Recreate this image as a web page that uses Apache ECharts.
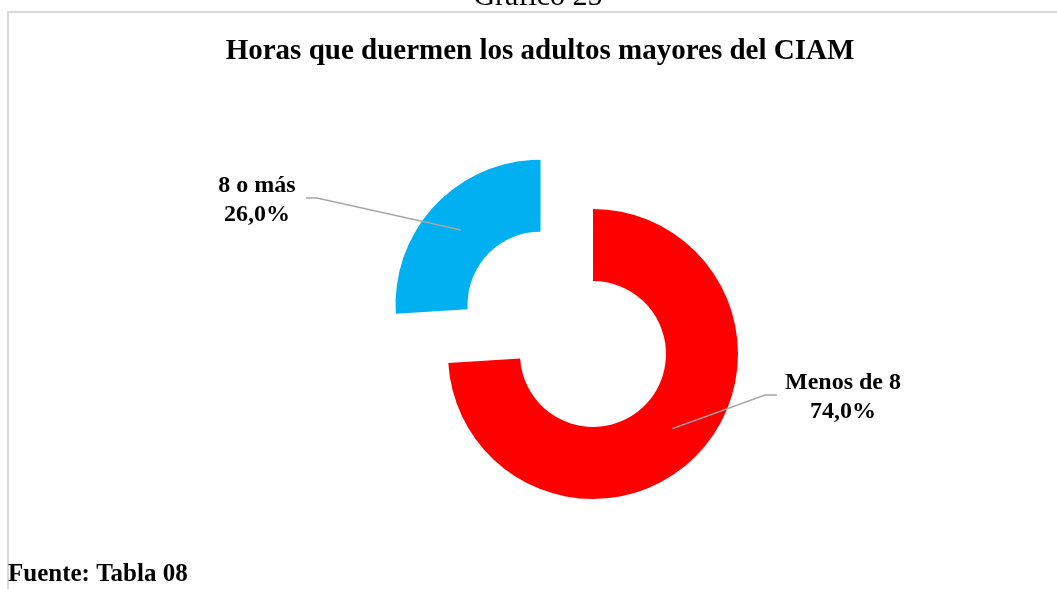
<!DOCTYPE html>
<html>
<head>
<meta charset="utf-8">
<script src="https://cdn.jsdelivr.net/npm/echarts@6/dist/echarts.min.js"></script>
<style>
  html, body { margin: 0; padding: 0; background: #ffffff; }
  #chart { width: 1057px; height: 589px; }
</style>
</head>
<body>
<div id="chart"></div>
<script>
// Sleep hours of older adults at the CIAM (percent of respondents)
const categories = ['Menos de 8', '8 o más'];
const percentages = [74.0, 26.0];
const sliceColors = ['#FF0000', '#00B0F0'];
const explodedSlice = [false, true];

const FONT = '"Liberation Serif", "Times New Roman", Times, serif';
const CENTER = [593, 354];
const RADII = [73, 145];
const EXPLODE = 72;

// where each label block sits, and the elbow/end of its leader line
const labelSpots = [
  { x: 843, y: 397, elbow: [765, 395], end: [777, 395] },
  { x: 257, y: 200, elbow: [317, 198], end: [306, 198] }
];

const total = percentages.reduce((a, b) => a + b, 0);

// mid angle of a slice, radians clockwise from 12 o'clock
function midAngle(i) {
  let before = 0;
  for (let k = 0; k < i; k++) before += percentages[k];
  return (before + percentages[i] / 2) / total * 2 * Math.PI;
}

// leader lines start in the middle of the ring (of the pulled-out slice when exploded)
function leaderStart(i) {
  const a = midAngle(i);
  const off = explodedSlice[i] ? EXPLODE : 0;
  const r = (RADII[0] + RADII[1]) / 2 + off;
  return [CENTER[0] + r * Math.sin(a), CENTER[1] - r * Math.cos(a)];
}

function labelText(i) {
  return categories[i] + '\n' + percentages[i].toFixed(1).replace('.', ',') + '%';
}

const graphics = [
  {
    type: 'rect', z: 0, silent: true,
    shape: { x: 8, y: 12, width: 1200, height: 800 },
    style: { fill: 'none', stroke: '#D9D9D9', lineWidth: 2 }
  },
  {
    type: 'text', z: 10, silent: true, x: 538, y: -3,
    style: { text: 'Gráfico 25', font: '30px ' + FONT, fill: '#000', align: 'center', verticalAlign: 'middle' }
  },
  {
    type: 'text', z: 10, silent: true, x: 540, y: 52,
    style: { text: 'Horas que duermen los adultos mayores del CIAM', font: 'bold 29px ' + FONT, fill: '#000', align: 'center', verticalAlign: 'middle' }
  },
  {
    type: 'text', z: 10, silent: true, x: 8, y: 575,
    style: { text: 'Fuente: Tabla 08', font: 'bold 25px ' + FONT, fill: '#000', align: 'left', verticalAlign: 'middle' }
  }
];

// data labels with leader lines, drawn above the ring
categories.forEach((name, i) => {
  const s = labelSpots[i];
  graphics.push({
    type: 'polyline', z: 50, silent: true,
    shape: { points: [leaderStart(i), s.elbow, s.end] },
    style: { stroke: '#A6A6A6', lineWidth: 1.5, fill: 'none' }
  });
  graphics.push({
    type: 'text', z: 50, silent: true, x: s.x, y: s.y,
    style: {
      text: labelText(i), font: 'bold 24px ' + FONT, lineHeight: 29,
      fill: '#000', align: 'center', verticalAlign: 'middle'
    }
  });
});

const chart = echarts.init(document.getElementById('chart'), null, { renderer: 'canvas' });

chart.setOption({
  animation: false,
  backgroundColor: '#ffffff',
  graphic: graphics,
  series: [{
    type: 'pie',
    center: CENTER,
    radius: RADII,
    startAngle: 90,
    clockwise: true,
    selectedMode: 'multiple',
    selectedOffset: EXPLODE,
    avoidLabelOverlap: false,
    emphasis: { disabled: true },
    itemStyle: { borderWidth: 0 },
    label: { show: false },
    labelLine: { show: false },
    data: categories.map((name, i) => ({
      name: name,
      value: percentages[i],
      selected: explodedSlice[i],
      itemStyle: { color: sliceColors[i] },
      select: { itemStyle: { color: sliceColors[i] } }
    }))
  }]
});
</script>
</body>
</html>
